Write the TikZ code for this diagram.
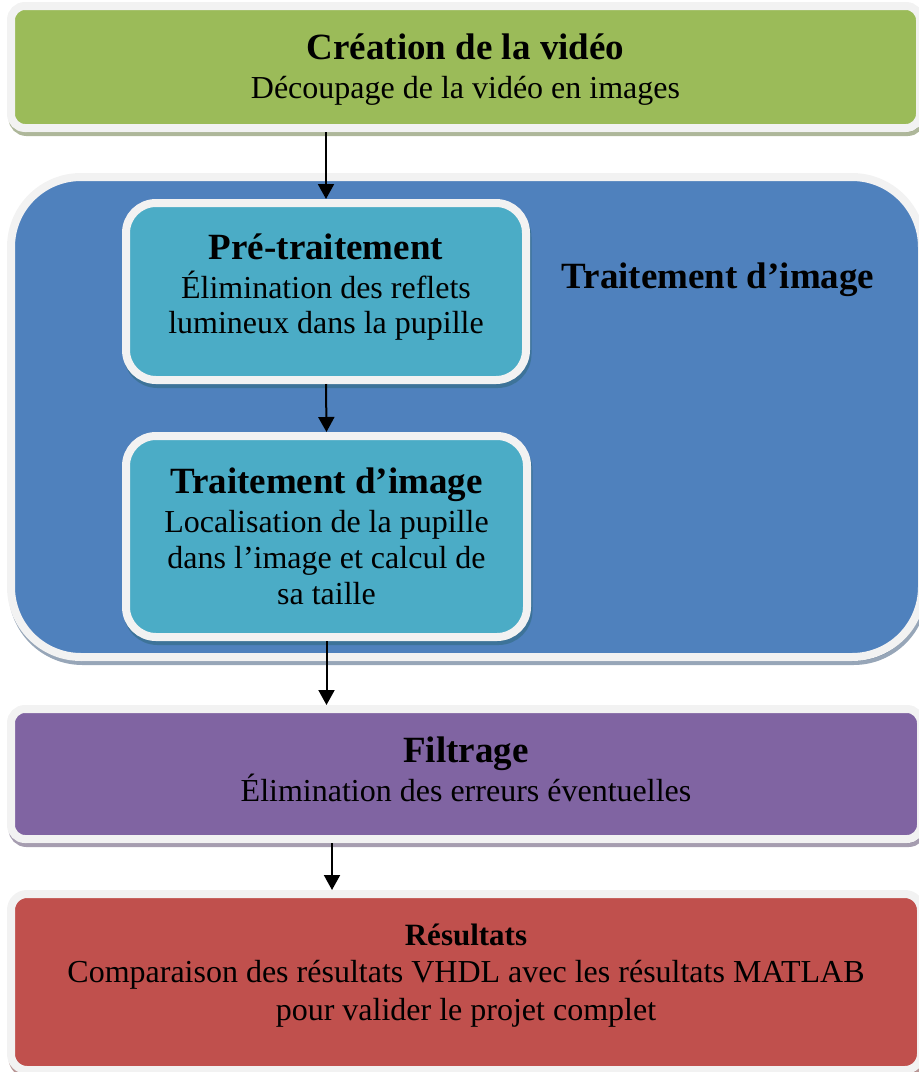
\documentclass[tikz,border=0pt]{standalone}
\usepackage{fontspec}
\setmainfont{Liberation Serif}
\usetikzlibrary{arrows.meta,shadows}

\definecolor{rim}{HTML}{F2F2F2}
\definecolor{cgreen}{HTML}{9BBB59}
\definecolor{cblue}{HTML}{4F81BD}
\definecolor{cteal}{HTML}{4BACC6}
\definecolor{cpurple}{HTML}{8064A2}
\definecolor{cred}{HTML}{C0504D}

\tikzset{
  card/.style={
    rectangle, draw=rim, line width=8pt, fill=#1, inner sep=0pt,
    general shadow={shadow xshift=1.5pt, shadow yshift=-4pt,
      fill=#1!60!black, draw=#1!60!black, line width=8pt, opacity=0.5}
  },
  body/.style={align=center, inner sep=0pt,
    font=\fontsize{32}{36}\selectfont},
  heading/.style={font=\fontsize{37}{40}\selectfont\bfseries},
  flow/.style={line width=2pt, -{Triangle[width=16pt,length=15pt]}}
}
\newcommand{\ttl}[1]{{\fontsize{37}{40}\selectfont\bfseries #1}}

\begin{document}
\begin{tikzpicture}[x=1pt,y=-1pt]
  \useasboundingbox (0,0) rectangle (919,1072);
  \clip (0,0) rectangle (919,1072);

  % video input
  \node[card=cgreen, rounded corners=14pt, minimum width=909pt, minimum height=122pt]
    (video) at (465.5,67) {};
  \node[body, yshift=-2.5pt] (videotxt) at (video)
    {\ttl{Création de la vidéo}\\[3pt]
     Découpage de la vidéo en images};

  % image processing container
  \node[card=cblue, rounded corners=70pt, minimum width=911pt, minimum height=480pt]
    (proc) at (466.5,417) {};
  \node[heading] (proclbl) at (718,280) {Traitement d’image};

  % stages inside the container
  \node[card=cteal, rounded corners=30pt, minimum width=400pt, minimum height=177pt]
    (pre) at (326,291.5) {};
  \node[body, yshift=4.5pt] (pretxt) at (pre)
    {\ttl{Pré-traitement}\\[3pt]
     Élimination des reflets\\[-1pt] lumineux dans la pupille};

  \node[card=cteal, rounded corners=30pt, minimum width=401pt, minimum height=201pt]
    (trait) at (326.5,536.5) {};
  \node[body] (traittxt) at (trait)
    {\ttl{Traitement d’image}\\[3pt]
     Localisation de la pupille\\ dans l’image et calcul de\\ sa taille};

  % filtering
  \node[card=cpurple, rounded corners=14pt, minimum width=910pt, minimum height=130pt]
    (filt) at (466,774) {};
  \node[body, yshift=5pt] (filttxt) at (filt)
    {\ttl{Filtrage}\\[3pt]
     Élimination des erreurs éventuelles};

  % results
  \node[card=cred, rounded corners=16pt, minimum width=910pt, minimum height=176pt]
    (res) at (466,982) {};
  \node[body, yshift=6pt] (restxt) at (res)
    {{\fontsize{31}{34}\selectfont\bfseries Résultats}\\[1pt]
     Comparaison des résultats VHDL avec les résultats MATLAB\\[2pt]
     pour valider le projet complet};

  % connectors
  \coordinate (lane) at (332,0);
  \draw[flow] (video.south -| pre.north) -- (pre.north);
  \draw[flow] (pre.south) -- (trait.north);
  \draw[flow] (trait.south) -- (trait.south |- filt.north);
  \draw[flow] (filt.south -| lane) -- (res.north -| lane);
\end{tikzpicture}
\end{document}
